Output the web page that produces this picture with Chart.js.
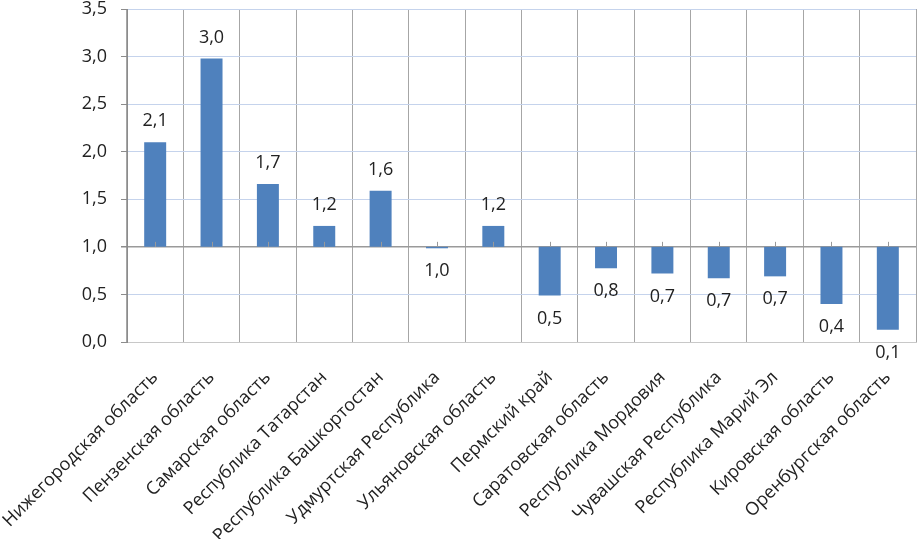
<!DOCTYPE html>
<html>
<head>
<meta charset="utf-8">
<script src="https://cdn.jsdelivr.net/npm/chart.js@4.4.1/dist/chart.umd.min.js"></script>
<style>
  html, body { margin: 0; padding: 0; background: #fff; }
  #wrap { width: 918px; height: 539px; position: relative; }
</style>
</head>
<body>
<div id="wrap"><canvas id="myChart"></canvas></div>
<script>
var regions = [
  "Нижегородская область",
  "Пензенская область",
  "Самарская область",
  "Республика Татарстан",
  "Республика Башкортостан",
  "Удмуртская Республика",
  "Ульяновская область",
  "Пермский край",
  "Саратовская область",
  "Республика Мордовия",
  "Чувашская Республика",
  "Республика Марий Эл",
  "Кировская область",
  "Оренбургская область"
];
var values = [2.1, 2.98, 1.66, 1.22, 1.59, 0.985, 1.22, 0.49, 0.775, 0.72, 0.67, 0.69, 0.4, 0.13];
var baseLevel = 1;
var yTicks = [0, 0.5, 1, 1.5, 2, 2.5, 3, 3.5];

function fmt(v) {
  return v.toFixed(1).replace(".", ",");
}

var fontFamily = "'Open Sans', 'Noto Sans', sans-serif";

// value labels above / below bars + small ticks on the 1,0 axis
var barLabels = {
  id: "barLabels",
  afterDatasetsDraw: function (chart) {
    var ctx = chart.ctx;
    var meta = chart.getDatasetMeta(0);
    var yScale = chart.scales.y;
    var yBase = yScale.getPixelForValue(baseLevel);
    ctx.save();
    ctx.strokeStyle = "#999999";
    ctx.lineWidth = 1;
    meta.data.forEach(function (bar) {
      ctx.beginPath();
      ctx.moveTo(Math.round(bar.x) + 0.5, yBase - 5);
      ctx.lineTo(Math.round(bar.x) + 0.5, yBase);
      ctx.stroke();
    });
    ctx.fillStyle = "#222";
    ctx.font = "18px " + fontFamily;
    ctx.textAlign = "center";
    ctx.textBaseline = "middle";
    meta.data.forEach(function (bar, i) {
      var v = values[i];
      var yPix = yScale.getPixelForValue(v);
      var ty = v >= baseLevel ? yPix - 21 : yPix + 23;
      ctx.fillText(fmt(v), bar.x, ty);
    });
    ctx.restore();
  }
};

var canvas = document.getElementById("myChart");
var chart = new Chart(canvas, {
  type: "bar",
  data: {
    labels: regions,
    datasets: [
      {
        data: values.map(function (v) { return [baseLevel, v]; }),
        backgroundColor: "#4f81bd",
        borderWidth: 0,
        barPercentage: 0.39,
        categoryPercentage: 1
      }
    ]
  },
  options: {
    responsive: true,
    maintainAspectRatio: false,
    animation: false,
    layout: { padding: { top: 9, right: 2, left: 0, bottom: 0 } },
    plugins: {
      legend: { display: false },
      tooltip: { enabled: false }
    },
    scales: {
      x: {
        offset: true,
        afterFit: function (scale) {
          scale.height = 197;
          scale.paddingLeft = 0;
          scale.paddingRight = 0;
        },
        grid: {
          offset: true,
          color: "#a6a6a6",
          drawTicks: false
        },
        border: { color: "#c8c8c8" },
        ticks: {
          autoSkip: false,
          maxRotation: 45,
          minRotation: 45,
          padding: 25,
          color: "#222",
          font: { family: fontFamily, size: 18 }
        }
      },
      y: {
        min: 0,
        max: 3.5,
        afterFit: function (scale) {
          scale.width = 127;
          scale.paddingTop = 0;
          scale.paddingBottom = 0;
        },
        afterBuildTicks: function (scale) {
          scale.ticks = yTicks.map(function (v) { return { value: v }; });
        },
        grid: {
          color: function (c) {
            return c.tick && c.tick.value === baseLevel ? "#9a9a9a" : "#c5d3ec";
          },
          lineWidth: function (c) {
            return c.tick && c.tick.value === baseLevel ? 1.5 : 1;
          },
          tickColor: "#8c8c8c",
          tickLength: 6
        },
        border: { color: "#8c8c8c" },
        ticks: {
          padding: 14,
          color: "#222",
          font: { family: fontFamily, size: 18 },
          callback: function (v) { return fmt(v); }
        }
      }
    }
  },
  plugins: [barLabels]
});
</script>
</body>
</html>
